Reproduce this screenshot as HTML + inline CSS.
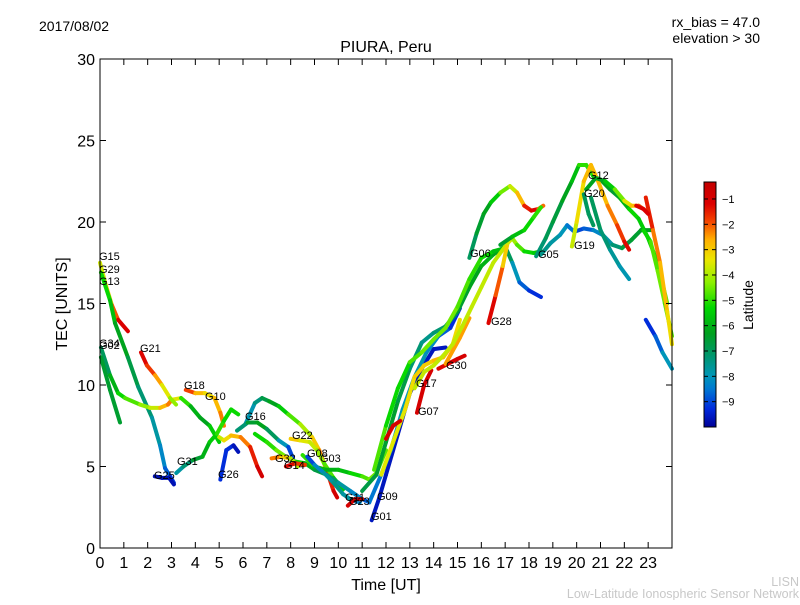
<!DOCTYPE html>
<html><head><meta charset="utf-8"><style>
html,body{margin:0;padding:0;background:#fff;}
svg text{font-family:"Liberation Sans","DejaVu Sans",sans-serif;}
</style></head><body>
<svg id="chart" width="800" height="600" viewBox="0 0 800 600" xmlns="http://www.w3.org/2000/svg">
<rect x="0" y="0" width="800" height="600" fill="#fff"/>
<text x="39" y="31" font-size="14">2017/08/02</text>
<text x="760" y="27" font-size="14" text-anchor="end">rx_bias = 47.0</text>
<text x="760" y="43" font-size="14" text-anchor="end">elevation &gt; 30</text>
<text x="386" y="52" font-size="16" text-anchor="middle">PIURA, Peru</text>
<g id="marks"></g>
<rect x="100" y="59" width="572" height="489" fill="none" stroke="#000" stroke-width="1"/>
<g id="axes"></g>
<text x="67" y="304" font-size="16" text-anchor="middle" transform="rotate(-90 67 304)">TEC [UNITS]</text>
<text x="386" y="590" font-size="16" text-anchor="middle">Time [UT]</text>
<g font-size="11">
<text x="99" y="260">G15</text><text x="99" y="273">G29</text><text x="99" y="285">G13</text>
<text x="99" y="347">G34</text><text x="99" y="349">G02</text>
<text x="140" y="352">G21</text><text x="184" y="389">G18</text><text x="205" y="400">G10</text>
<text x="245" y="420">G16</text><text x="177" y="465">G31</text><text x="154" y="479">G25</text>
<text x="218" y="478">G26</text><text x="275" y="462">G32</text><text x="284" y="469">G14</text>
<text x="292" y="439">G22</text><text x="307" y="457">G08</text><text x="320" y="462">G03</text>
<text x="345" y="501">G11</text><text x="349" y="505">G23</text><text x="377" y="500">G09</text>
<text x="371" y="520">G01</text><text x="416" y="387">G17</text><text x="418" y="415">G07</text>
<text x="446" y="369">G30</text><text x="491" y="325">G28</text><text x="470" y="257">G06</text>
<text x="538" y="258">G05</text><text x="574" y="249">G19</text><text x="588" y="179">G12</text><text x="584" y="197">G20</text>
</g>
<defs><linearGradient id="cmap" x1="0" y1="1" x2="0" y2="0"></linearGradient></defs>
<rect x="704" y="182" width="12" height="245" fill="url(#cmap)" stroke="#000" stroke-width="1"/>
<g id="cbticks"></g>
<text x="753" y="305" font-size="14" text-anchor="middle" transform="rotate(-90 753 305)">Latitude</text>
<text x="799" y="586" font-size="12.5" fill="#c8c8c8" text-anchor="end">LISN</text>
<text x="799" y="598" font-size="12.5" fill="#c8c8c8" text-anchor="end">Low-Latitude Ionospheric Sensor Network</text>
</svg>
<script>
const xTicks=[0,1,2,3,4,5,6,7,8,9,10,11,12,13,14,15,16,17,18,19,20,21,22,23];
const yTicks=[0,5,10,15,20,25,30];
const cbTicks=[-1,-2,-3,-4,-5,-6,-7,-8,-9];
const trackTimes=[
[0,.25,.5,.76,1.17],
[.04,.42,.63,1.17,1.6,2.18,2.52,2.73,2.94,3.1],
[.04,.42,.76,1.05,1.68,2.1,2.52,2.85,3.02,3.4,3.8,4.2,4.6,5.0],
[.04,.42,.84],
[1.72,1.97,2.31,2.6,2.94,3.19],
[3.6,4.0,4.4,4.8,5.05,5.2],
[5.0,5.2,5.5,5.9,6.3,6.6,6.8],
[5.05,5.3,5.6,5.8],
[2.3,2.6,2.9,3.1],
[3.2,3.5,3.9,4.3,4.6,4.9,5.2,5.5,5.8],
[6.1,6.5,6.8,7.1,7.5,7.9,8.4,8.9,9.2,9.5,9.8,9.95],
[5.75,6.2,6.6,7.0,7.5,7.9,8.1],
[8.0,8.4,8.8,9.1,9.4,9.8,10.2],
[6.5,7.0,7.4,7.8,8.2,8.6,9.0,9.5,10.0,10.5,11.0,11.3],
[8.5,9.0,9.5,10.0,10.5,11.0,11.3,11.6,12.0],
[7.2,7.6,8.0,8.3],
[7.8,8.2,8.6],
[8.7,9.0,9.4,9.8,10.2,10.6,10.9],
[10.4,10.7,11.0],
[11.4,11.7,12.0,12.5,13.0,13.5,14.0,14.5],
[11.3,11.8,12.2,12.7,13.2,13.7,14.2,14.7,15.1],
[11.0,11.6,12.0,12.5,13.0,13.5,14.0,14.5,15.0,15.5,16.0,16.5,17.0,17.3,17.6,18.0,18.5],
[11.5,12.0,12.5,13.0,13.5,14.0,14.5,15.0,15.5,16.0,16.5,17.0],
[11.8,12.3,12.8,13.2,13.6,14.0,14.4,14.8,15.1],
[14.2,14.6,15.0,15.3],
[13.3,13.6,13.9],
[14.5,15.1,15.5],
[12.0,12.3,12.6],
[13.2,13.6,14.0,14.4,14.8,15.2,15.6,16.0,16.5,17.0],
[15.5,15.8,16.1,16.4,16.8,17.2,17.5,17.8,18.1,18.4,18.6],
[16.3,16.6,16.9,17.1,17.3,17.5,17.8,18.2,18.5],
[16.8,17.3,17.8,18.2,18.5],
[18.3,18.7,19.0,19.4,19.8,20.1,20.4,20.7,21.0,21.4,21.8,22.2,22.6,23.0,23.4,23.8],
[18.5,18.9,19.3,19.6,19.9,20.3,20.7,21.1,21.5,21.9,22.3,22.7,23.1],
[19.8,20.0,20.3,20.6,20.9,21.3,21.7,22.0,22.2],
[20.4,20.8,21.2,21.6,22.0,22.3,22.6,22.9],
[20.6,21.0,21.4,21.8,22.2],
[22.8,23.1,23.4,23.7,24.0],
[22.9,23.2,23.5,23.8,24.0],
[22.9,23.3,23.6,24.0],
[20.3,20.5,20.7],
[22.5,22.8,23.0]
];
const trackTec=[
[17.5,16.1,14.9,14.0,13.3],
[16.9,15.2,13.8,11.7,9.9,8.0,6.3,4.9,4.4,4.0],
[12.3,10.6,9.5,9.2,8.8,8.6,8.6,8.8,9.1,9.2,8.7,8.0,7.5,6.5],
[11.7,9.7,7.7],
[12,11.2,10.6,10,9.2,8.8],
[9.7,9.5,9.5,9.2,8.3,7.5],
[6.8,6.6,6.9,6.8,6.2,5.0,4.4],
[4.2,6.0,6.3,5.9],
[4.4,4.3,4.3,3.9],
[4.6,5.0,5.4,5.6,6.5,7.0,7.8,8.5,8.2],
[7.6,8.9,9.2,9.0,8.7,8.2,7.6,6.8,6.0,4.8,3.5,3.1],
[7.2,7.7,7.7,7.3,6.6,6.2,5.5],
[6.7,6.6,6.5,6.0,5.2,4.3,3.6],
[7.0,6.5,6.0,5.6,5.3,5.2,4.8,4.5,4.0,3.5,3.0,2.8],
[5.7,5.0,4.8,4.8,4.6,4.4,4.2,4.6,6.0],
[5.5,5.6,5.5,5.0],
[5.0,5.2,5.1],
[5.6,5.1,4.6,4.0,3.3,2.9,2.8],
[2.6,3.0,3.0],
[1.7,3.0,4.5,7.0,9.5,11.0,12.2,12.3],
[2.8,4.5,6.0,8.5,10.5,12.0,13.0,13.5,14.7],
[3.5,4.5,6.5,9.0,11.0,12.6,13.2,13.6,14.5,16.0,17.3,18.0,18.5,17.5,16.3,15.8,15.4],
[4.8,7.5,9.8,11.4,12.0,12.8,13.5,14.8,16.5,17.8,18.2,18.4],
[4.5,6.5,8.5,10.5,11.2,11.5,11.7,12.5,14.0],
[11.0,11.3,11.6,11.8],
[8.3,10,10.9],
[11.3,12.9,14.1],
[6.7,7.5,7.8],
[9.8,10.8,11.2,11.8,12.5,13.6,14.8,16.0,17.5,18.5],
[17.8,19.3,20.5,21.2,21.8,22.2,21.8,21.0,20.7,20.8,21.0],
[13.8,15.5,17.3,18.7,19.0,18.6,18.2,18.1,18.2],
[18.6,19.1,19.5,20.3,20.9],
[17.9,19.0,20.0,21.3,22.5,23.5,23.5,22.8,22.6,22.0,21.5,20.8,20.2,19.0,17.5,15.0],
[18.0,18.7,19.2,19.8,19.4,19.6,19.5,19.2,18.6,18.4,18.9,19.5,19.5],
[18.5,20,22.5,23.5,22.5,21,19.8,18.8,18.3],
[22.0,22.7,22.5,22.0,21.3,21.0,21.0,20.7],
[21.5,19.5,18.3,17.3,16.5],
[19.5,18.8,17.0,15.0,13.0],
[21.5,19.5,17.5,14.5,12.5],
[14,13,12,11],
[21.7,20.5,19.8],
[21.0,20.8,20.5]
];
const trackLat=[
[-3.8,-3.5,-2.5,-1.5,-0.8],
[-5,-5.5,-6,-6.5,-7,-7.5,-8,-8.5,-9,-9.3],
[-7.5,-6.5,-5.5,-5,-4.5,-4,-3.5,-2,-2.5,-4.5,-5.5,-6.5,-6,-5],
[-6.5,-6.5,-6.5],
[-1,-1.5,-2,-3,-4,-4.5],
[-1.2,-2.5,-3,-3.5,-2,-2.5],
[-4,-3.5,-3,-2.5,-2,-1,-0.8],
[-9.5,-9,-9.5,-9.8],
[-9.7,-9.7,-9.7,-9.7],
[-8,-7.5,-7,-6,-6,-5,-5,-5.5,-5],
[-8,-7.8,-7,-6.5,-6,-5,-4.5,-3.5,-2.5,-2,-1,-0.8],
[-7.5,-7,-6,-6.5,-7.5,-8.5,-9.5],
[-2.5,-3.5,-3.5,-4,-4.5,-5,-6],
[-5,-5.5,-4.5,-4.5,-5,-5.5,-6.5,-7,-7.5,-8,-8.5,-9],
[-4.5,-5.5,-6,-6,-5.5,-5,-4.5,-4.5,-4.8],
[-2,-2.5,-3.5,-4.5],
[-1,-1.5,-2],
[-9.5,-8.5,-8,-7.5,-7.5,-8,-8.5],
[-1,-1,-1],
[-9.6,-9.6,-9.6,-9.6,-9.6,-9.6,-9.6,-9.6],
[-8.5,-8.5,-8,-8,-8,-7.8,-8.5,-9,-9.5],
[-7,-6.5,-6.5,-6.5,-7,-7.5,-7.5,-7,-6.5,-6.5,-6,-6,-6.5,-7.5,-8.5,-9,-9.5],
[-4.5,-5,-5.5,-5,-4.5,-4.5,-4.5,-4.5,-5,-5,-5.5,-6],
[-3.5,-3.5,-3.5,-3,-3,-3,-2.5,-3,-3.5],
[-1.5,-1,-1,-1],
[-1,-1,-1],
[-2.5,-2.5,-2.5],
[-1,-1,-1],
[-3.8,-3.8,-3.8,-3.8,-3.8,-3.8,-3.8,-3.8,-3.8,-3.8],
[-7.5,-6.5,-6.5,-6,-5,-4,-3.5,-2,-1,-1.5,-2.8],
[-1,-1.5,-2.5,-3.5,-3.8,-4.5,-5,-5.5,-5.5],
[-6.5,-6.5,-5,-5.5,-4.5],
[-7.5,-7,-6.8,-6.5,-6,-5.5,-4.5,-5.5,-6,-6.5,-6.5,-5.5,-5,-6,-5,-4.5],
[-7.5,-7.5,-8,-8,-9,-9,-8.5,-8,-7.5,-7,-6.5,-6.5,-6],
[-4,-3.5,-3,-2.5,-3,-2.5,-2,-1.5,-1],
[-6,-6.5,-6,-5,-4,-3,-2.5,-1.5],
[-7,-7,-7.5,-7.8,-8],
[-5.5,-5,-4.5,-4.5,-5],
[-1,-2,-2.5,-3,-3.5],
[-9.5,-9,-8.5,-7.5],
[-7,-7,-7],
[-1.2,-1.2,-1.2]
];
const NS="http://www.w3.org/2000/svg";
const X0=100,X1=672,Y0=548,Y1=59;
function xs(t){return X0+(t/24)*(X1-X0);}
function ys(v){return Y0-(v/30)*(Y0-Y1);}
const LATMIN=-10,LATMAX=-0.33;
function cy(l){return 427-(l-LATMIN)/(LATMAX-LATMIN)*245;}
const STOPS=[[-10,[0,0,150]],[-9.3,[0,40,220]],[-8.5,[0,120,210]],[-8,[0,150,185]],[-7.2,[0,150,110]],[-6.3,[0,160,30]],[-5.3,[0,215,0]],[-4.3,[140,240,0]],[-3.4,[235,230,0]],[-2.6,[255,175,0]],[-1.9,[245,70,0]],[-1.2,[220,0,0]],[-0.33,[195,0,0]]];
function cmapRGB(l){
  if(l<=STOPS[0][0])return STOPS[0][1];
  for(let i=0;i<STOPS.length-1;i++){const a=STOPS[i],b=STOPS[i+1];
    if(l<=b[0]){const f=(l-a[0])/(b[0]-a[0]);return a[1].map((c,j)=>Math.round(c+(b[1][j]-c)*f));}}
  return STOPS[STOPS.length-1][1];
}
function col(l){const c=cmapRGB(l);return `rgb(${c[0]},${c[1]},${c[2]})`;}
const grad=document.getElementById('cmap');
for(const s of STOPS){const st=document.createElementNS(NS,'stop');
  st.setAttribute('offset',(s[0]-LATMIN)/(LATMAX-LATMIN));st.setAttribute('stop-color',col(s[0]));grad.appendChild(st);}
const marks=document.getElementById('marks');
for(let k=0;k<trackTimes.length;k++){
  const g=document.createElementNS(NS,'g');
  
  
  const T=trackTimes[k],V=trackTec[k],L=trackLat[k];
  for(let i=0;i<T.length-1;i++){
    const ln=document.createElementNS(NS,'line');
    
    
    ln.setAttribute('x1',xs(T[i]));ln.setAttribute('y1',ys(V[i]));
    ln.setAttribute('x2',xs(T[i+1]));ln.setAttribute('y2',ys(V[i+1]));
    ln.setAttribute('stroke',col((L[i]+L[i+1])/2));
    ln.setAttribute('stroke-width','4');ln.setAttribute('stroke-linecap','round');
    g.appendChild(ln);
  }
  marks.appendChild(g);
}
const axes=document.getElementById('axes');
function add(parent,tag,attrs,txt){const e=document.createElementNS(NS,tag);for(const a in attrs)e.setAttribute(a,attrs[a]);if(txt!==undefined)e.textContent=txt;parent.appendChild(e);return e;}
for(const t of xTicks){
  const x=xs(t);
  const a=add(axes,'line',{x1:x,y1:Y0,x2:x,y2:Y0-6,stroke:'#000'});
  
  const b=add(axes,'line',{x1:x,y1:Y1,x2:x,y2:Y1+6,stroke:'#000'});
  
  const tx=add(axes,'text',{x:x,y:568,'font-size':16,'text-anchor':'middle'},String(t));
  
  
}
for(const v of yTicks){
  const y=ys(v);
  const a=add(axes,'line',{x1:X0,y1:y,x2:X0+6,y2:y,stroke:'#000'});
  
  const b=add(axes,'line',{x1:X1,y1:y,x2:X1-6,y2:y,stroke:'#000'});
  
  const tx=add(axes,'text',{x:95,y:y+6,'font-size':16,'text-anchor':'end'},String(v));
  
  
}
const cbt=document.getElementById('cbticks');
for(const l of cbTicks){
  const y=cy(l);
  const a=add(cbt,'line',{x1:704,y1:y,x2:708,y2:y,stroke:'#000'});
  
  const b=add(cbt,'line',{x1:716,y1:y,x2:712,y2:y,stroke:'#000'});
  
  const tx=add(cbt,'text',{x:722,y:y+4,'font-size':11},String(l).replace('-','\u2212'));
  
  
}
</script>
</body></html>
